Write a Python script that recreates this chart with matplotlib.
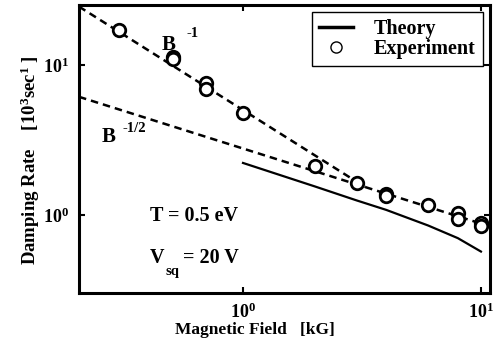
import numpy as np
import matplotlib
matplotlib.use("Agg")
import matplotlib.pyplot as plt
from matplotlib.lines import Line2D

plt.rcParams['font.family'] = ['Liberation Serif', 'DejaVu Serif']
plt.rcParams['font.weight'] = 'bold'
plt.rcParams['mathtext.fontset'] = 'custom'
plt.rcParams['mathtext.rm'] = 'Liberation Serif:bold'
plt.rcParams['mathtext.it'] = 'Liberation Serif:bold'
plt.rcParams['mathtext.bf'] = 'Liberation Serif:bold'
plt.rcParams['mathtext.default'] = 'rm'

# Experiment data
exp_B = [0.30, 0.51, 0.51, 0.70, 0.70, 1.0, 2.0, 3.0, 4.0, 4.0, 6.0, 8.0, 8.0, 10.0, 10.0]
exp_rate = [17.1, 11.3, 10.9, 7.6, 6.9, 4.8, 2.12, 1.63, 1.38, 1.33, 1.17, 1.03, 0.94, 0.88, 0.84]

# Theory curve
th_B = [1.0, 2.0, 3.0, 4.0, 6.0, 8.0, 10.0]
th_rate = [2.22, 1.55, 1.25, 1.08, 0.85, 0.70, 0.57]

# Power-law guide lines: rate = c * B^p
fit1_c, fit1_p = 5.0, -1.0
fit2_c, fit2_p = 2.77, -0.5

xlim = (0.2045, 10.9)
ylim = (0.302, 25.1)

fig = plt.figure(figsize=(4.95, 3.5), dpi=100)
ax = fig.add_axes([0.1596, 0.163, 0.830, 0.823])
ax.set_xscale('log')
ax.set_yscale('log')
ax.set_xlim(*xlim)
ax.set_ylim(*ylim)

# intersection of the two guide lines
B_cross = (fit1_c / fit2_c) ** (1.0 / (fit2_p - fit1_p))
b1 = np.logspace(np.log10(xlim[0]), np.log10(B_cross), 50)
b2 = np.logspace(np.log10(xlim[0]), np.log10(10.0), 50)
dash = (0, (3.0, 2.0))
ax.plot(b1, fit1_c * b1 ** fit1_p, color='black', lw=1.8, linestyle=dash)
ax.plot(b2, fit2_c * b2 ** fit2_p, color='black', lw=1.8, linestyle=dash)

ax.plot(th_B, th_rate, color='black', lw=1.6)
ax.plot(exp_B, exp_rate, linestyle='none', marker='o', markersize=9,
        markerfacecolor='white', markeredgecolor='black', markeredgewidth=2.0)

for s in ax.spines.values():
    s.set_linewidth(2.2)

ax.set_xticks([1, 10])
ax.set_xticklabels([r'$10^{0}$', r'$10^{1}$'])
ax.set_yticks([1, 10])
ax.set_yticklabels([r'$10^{0}$', r'$10^{1}$'])
ax.minorticks_off()
ax.tick_params(which='both', direction='in', length=4, width=1.5,
               top=True, right=True, labelsize=13, pad=7)

# annotations
ax.text(0.219, 0.861, 'B', transform=ax.transAxes, fontsize=15,
        ha='center', va='center')
ax.text(0.262, 0.900, '-1', transform=ax.transAxes, fontsize=10.5,
        ha='left', va='center')
ax.text(0.072, 0.542, 'B', transform=ax.transAxes, fontsize=15,
        ha='center', va='center')
ax.text(0.107, 0.572, '-1/2', transform=ax.transAxes, fontsize=10.5,
        ha='left', va='center')
ax.text(0.173, 0.267, 'T = 0.5 eV', transform=ax.transAxes, fontsize=14.5,
        ha='left', va='center')
ax.text(0.173, 0.122, 'V', transform=ax.transAxes, fontsize=14.5,
        ha='left', va='center')
ax.text(0.210, 0.076, 'sq', transform=ax.transAxes, fontsize=10.5,
        ha='left', va='center')
ax.text(0.253, 0.122, '= 20 V', transform=ax.transAxes, fontsize=14.5,
        ha='left', va='center')

handles = [Line2D([], [], color='black', lw=2.5),
           Line2D([], [], linestyle='none', marker='o', markersize=8,
                  markerfacecolor='white', markeredgecolor='black', markeredgewidth=1.0)]
leg = ax.legend(handles, ['Theory', 'Experiment'], loc='upper right',
                bbox_to_anchor=(0.983, 0.976), fontsize=14.5, frameon=True,
                fancybox=False, edgecolor='black', framealpha=1,
                handlelength=1.7, handletextpad=1.05, labelspacing=0.0,
                borderpad=0.35, borderaxespad=0)
leg.get_frame().set_linewidth(1.0)

fig.text(0.515, 0.057, 'Magnetic Field   [kG]', fontsize=12.5,
         ha='center', va='center')
fig.text(0.062, 0.543, r'Damping Rate    [10$^{3}$sec$^{1}$ ]', fontsize=13.5,
         ha='center', va='center', rotation=90)

fig.savefig('out.png', dpi=100)
